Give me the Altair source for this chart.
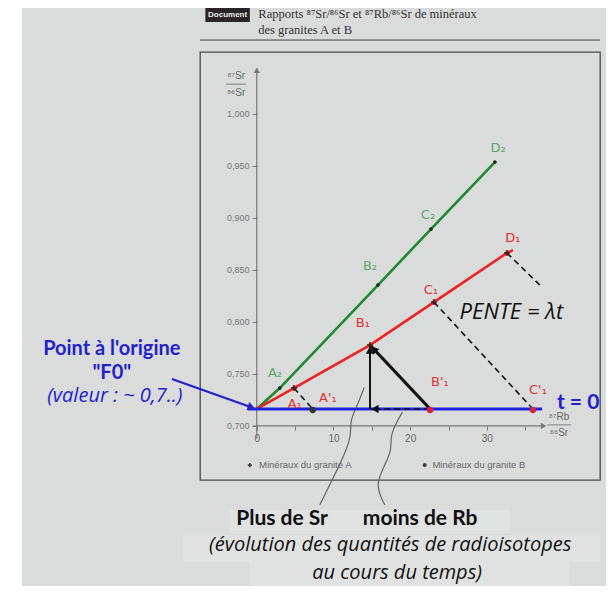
import altair as alt
import pandas as pd

XDOM = [-7.4, 44.75]
YDOM = [0.648, 1.0596]
XS = alt.Scale(domain=XDOM, nice=False, zero=False)
YS = alt.Scale(domain=YDOM, nice=False, zero=False)

# ---- data ----
F0 = 0.7163
red_names = ["A₁", "B₁", "C₁", "D₁"]
red_x = [4.85, 14.76, 23.1, 32.62]
red_y = [0.7364, 0.7778, 0.8191, 0.8663]
red_end = (33.4, 0.869)

green_names = ["A₂", "B₂", "C₂", "D₂"]
green_x = [3.0, 15.8, 22.71, 31.05]
green_y = [0.7364, 0.8355, 0.8893, 0.9537]

t0_names = ["A'₁", "B'₁", "C'₁"]
t0_x = [7.3, 22.6, 36.0]

x_ticks = [0, 5, 10, 15, 20, 25, 30, 35]
y_ticks = [0.70, 0.75, 0.80, 0.85, 0.90, 0.95, 1.00]

AX = alt.Axis(values=x_ticks, offset=-54, domain=False, grid=False, title=None,
              tickColor="#777", tickSize=4, labelColor="#666",
              labelFont="Liberation Sans", labelFontSize=10, labelPadding=3,
              labelExpr="datum.value % 10 == 0 ? datum.label : ''")
AY = alt.Axis(values=y_ticks, offset=-57, domain=False, grid=False, title=None,
              tickColor="#777", tickSize=5, labelColor="#777",
              labelFont="Liberation Sans", labelFontSize=9, labelPadding=3,
              labelExpr="replace(format(datum.value, '.3f'), '.', ',')")


def X(field="x"):
    return alt.X(field, type="quantitative", scale=XS, axis=AX, title=None)


def Y(field="y"):
    return alt.Y(field, type="quantitative", scale=YS, axis=AY, title=None)


# paper decorations: white strip at left edge, lighter boxes behind the bottom notes
strip = alt.Chart(pd.DataFrame({"x": [-33.5], "x2": [-30.6], "y": [0.50], "y2": [1.20], "c": ["#ffffff"]})).mark_rect(
).encode(x=X(), x2="x2:Q", y=Y(), y2="y2:Q", color=alt.Color("c:N", scale=None))
boxes = alt.Chart(pd.DataFrame({"x": [-3.5, -9.6, -0.9], "x2": [33.0, 44.75, 40.8],
                                "y": [0.6191, 0.5951, 0.5691], "y2": [0.5970, 0.5691, 0.5400]})).mark_rect(
    color="#e0e2e2").encode(x=X(), x2="x2:Q", y=Y(), y2="y2:Q")

# axis lines drawn as rules with arrow heads
axis_lines = pd.DataFrame({"x": [-0.5, 0], "y": [0.70, 0.688], "x2": [37.2, 0], "y2": [0.70, 1.042]})
axis_rules = alt.Chart(axis_lines).mark_rule(color="#777", strokeWidth=1.2).encode(
    x=X(), y=Y(), x2="x2:Q", y2="y2:Q")
arrow_heads = alt.Chart(pd.DataFrame({"x": [0, 37.4], "y": [1.042, 0.70], "s": ["triangle-up", "triangle-right"]})).mark_point(
    filled=True, color="#777", size=40, opacity=1).encode(
    x=X(), y=Y(), shape=alt.Shape("s:N", scale=None))

# main lines
green_df = pd.DataFrame({"x": [0] + green_x, "y": [F0] + green_y})
green_line = alt.Chart(green_df).mark_line(color="#1f8a2e", strokeWidth=2.6).encode(x=X(), y=Y())

red_df = pd.DataFrame({"x": [0] + red_x + [red_end[0]], "y": [F0] + red_y + [red_end[1]]})
red_line = alt.Chart(red_df).mark_line(color="#ee2222", strokeWidth=2.6).encode(x=X(), y=Y())

blue_df = pd.DataFrame({"x": [-1.2], "x2": [37.2], "y": [F0]})
blue_line = alt.Chart(blue_df).mark_rule(color="#2222dd", strokeWidth=3).encode(x=X(), x2="x2:Q", y=Y())

# dashed projection lines
dash_df = pd.DataFrame({
    "x": [red_x[0], red_x[2], red_x[3], t0_x[1]],
    "y": [red_y[0], red_y[2], red_y[3], F0],
    "x2": [t0_x[0], t0_x[2], 36.9, red_x[1]],
    "y2": [F0, F0, 0.8355, F0],
})
dashes = alt.Chart(dash_df).mark_rule(color="#111", strokeWidth=1.6, strokeDash=[6, 4]).encode(
    x=X(), y=Y(), x2="x2:Q", y2="y2:Q")

# black arrows (evolution B'1 -> B1)
black_df = pd.DataFrame({"x": [t0_x[1], red_x[1]], "y": [F0, F0], "x2": [red_x[1], red_x[1]],
                         "y2": [red_y[1], red_y[1]], "w": [3.2, 2.0]})
black_arrows = alt.Chart(black_df).mark_rule(color="#111").encode(
    x=X(), y=Y(), x2="x2:Q", y2="y2:Q", strokeWidth=alt.StrokeWidth("w:Q", scale=None))
heads_df = pd.DataFrame({"x": [red_x[1] + 0.5, red_x[1], 15.4], "y": [red_y[1] - 0.004, red_y[1] - 0.005, F0],
                         "a": [317, 0, 270]})
black_heads = alt.Chart(heads_df).mark_point(shape="triangle-up", filled=True, color="#111", size=70, opacity=1).encode(
    x=X(), y=Y(), angle=alt.Angle("a:Q", scale=None))

# markers
red_pts = alt.Chart(pd.DataFrame({"x": red_x, "y": red_y})).mark_point(
    shape="cross", filled=True, color="#5a1c1c", size=30, opacity=1).encode(x=X(), y=Y())
green_pts = alt.Chart(pd.DataFrame({"x": green_x, "y": green_y})).mark_point(
    shape="circle", filled=True, color="#1d2d1d", size=14, opacity=1).encode(x=X(), y=Y())
t0_pts = alt.Chart(pd.DataFrame({"x": t0_x, "y": [F0 - 0.001] * 3, "c": ["#333", "#d8213a", "#d8213a"]})).mark_point(
    shape="circle", filled=True, size=40, opacity=1).encode(x=X(), y=Y(), color=alt.Color("c:N", scale=None))

# point labels
green_lab = alt.Chart(pd.DataFrame({"x": [2.37, 14.76, 22.32, 31.45], "y": [0.7509, 0.8538, 0.9028, 0.9672],
                                    "t": green_names})).mark_text(
    font="DejaVu Sans", fontSize=13, color="#5aa868").encode(x=X(), y=Y(), text="t:N")
red_lab = alt.Chart(pd.DataFrame({
    "x": [4.95, 13.83, 22.71, 33.4, 9.28, 23.88, 36.66],
    "y": [0.7211, 0.7989, 0.8307, 0.8807, 0.7268, 0.7422, 0.7345],
    "t": red_names + t0_names})).mark_text(
    font="DejaVu Sans", fontSize=13, color="#e23030").encode(x=X(), y=Y(), text="t:N")

# blue pointer to F0
ptr_df = pd.DataFrame({"x": [-11.06], "y": [0.7451], "x2": [-0.9], "y2": [0.7185]})
ptr = alt.Chart(ptr_df).mark_rule(color="#2222cc", strokeWidth=2.2).encode(x=X(), y=Y(), x2="x2:Q", y2="y2:Q")
ptr_head = alt.Chart(pd.DataFrame({"x": [-0.7], "y": [0.7181]})).mark_point(
    shape="triangle-right", angle=19, filled=True, color="#2222cc", size=70, opacity=1).encode(x=X(), y=Y())

# grey hand-drawn pointers
curve_df = pd.DataFrame({
    "x": [8.2, 11.0, 12.4, 12.1, 13.2, 14.0,
          16.7, 15.4, 16.7, 17.6, 17.4, 18.4, 19.0],
    "y": [0.6239, 0.665, 0.690, 0.705, 0.721, 0.737,
          0.6239, 0.6431, 0.6624, 0.6768, 0.6912, 0.7057, 0.7134],
    "g": ["a"] * 6 + ["b"] * 7,
    "i": list(range(6)) + list(range(7)),
})
curves = alt.Chart(curve_df).mark_line(color="#666", strokeWidth=1.2, interpolate="basis").encode(
    x=X(), y=Y(), detail="g:N", order="i:Q")

# axis titles (fractions)
frac_txt = alt.Chart(pd.DataFrame({"x": [-2.7, -2.7, 39.4, 39.4], "y": [1.0364, 1.0205, 0.7084, 0.6930],
                                   "t": ["⁸⁷Sr", "⁸⁶Sr", "⁸⁷Rb", "⁸⁶Sr"]})).mark_text(
    font="Liberation Sans", fontSize=10, color="#666").encode(x=X(), y=Y(), text="t:N")
frac_rules = alt.Chart(pd.DataFrame({"x": [-4.0, 37.9], "x2": [-1.4, 41.0], "y": [1.0287, 0.7010]})).mark_rule(
    color="#666", strokeWidth=0.8).encode(x=X(), x2="x2:Q", y=Y())

# legend inside the frame
leg_df = pd.DataFrame({"x": [0.3, 22.9], "y": [0.6624, 0.6624],
                       "t": ["Minéraux du granite A", "Minéraux du granite B"]})
leg_txt = alt.Chart(leg_df).mark_text(align="left", font="Liberation Sans", fontSize=9.5, color="#666").encode(
    x=X(), y=Y(), text="t:N")
leg_sym = alt.Chart(pd.DataFrame({"x": [-0.9, 21.9], "y": [0.6624, 0.6624], "s": ["cross", "circle"]})).mark_point(
    filled=True, color="#444", size=18, opacity=1).encode(x=X(), y=Y(), shape=alt.Shape("s:N", scale=None))

# header
doc_box = alt.Chart(pd.DataFrame({"x": [-6.7], "x2": [-0.9], "y": [1.0884], "y2": [1.1018]})).mark_rect(
    color="#2a2526").encode(x=X(), x2="x2:Q", y=Y(), y2="y2:Q")
doc_txt = alt.Chart(pd.DataFrame({"x": [-3.8], "y": [1.0951], "t": ["Document"]})).mark_text(
    font="Liberation Sans", fontWeight="bold", fontSize=8, color="#eeeeee").encode(x=X(), y=Y(), text="t:N")
head_txt = alt.Chart(pd.DataFrame({"x": [0.2, 0.2], "y": [1.0961, 1.0807],
                                   "t": ["Rapports ⁸⁷Sr/⁸⁶Sr et ⁸⁷Rb/⁸⁶Sr de minéraux", "des granites A et B"]})).mark_text(
    align="left", font="Liberation Serif", fontSize=12.5, color="#333").encode(x=X(), y=Y(), text="t:N")
head_rule = alt.Chart(pd.DataFrame({"x": [-7.4], "x2": [44.75], "y": [1.0711]})).mark_rule(
    color="#444", strokeWidth=1).encode(x=X(), x2="x2:Q", y=Y())

# annotations
ann_bold_blue = alt.Chart(pd.DataFrame({"x": [-18.9, -18.9], "y": [0.7735, 0.7505],
                                        "t": ["Point à l'origine", "\"F0\""]})).mark_text(
    font="Lato", fontWeight="bold", fontSize=20, color="#2222cc").encode(x=X(), y=Y(), text="t:N")
ann_it_blue = alt.Chart(pd.DataFrame({"x": [-18.5], "y": [0.7285], "t": ["(valeur : ~ 0,7..)"]})).mark_text(
    font="Open Sans", fontStyle="italic", fontSize=20, color="#2222cc").encode(x=X(), y=Y(), text="t:N")
ann_t0 = alt.Chart(pd.DataFrame({"x": [41.9], "y": [0.7225], "t": ["t = 0"]})).mark_text(
    font="Lato", fontWeight="bold", fontSize=21, color="#2222cc").encode(x=X(), y=Y(), text="t:N")
ann_pente = alt.Chart(pd.DataFrame({"x": [33.2], "y": [0.8095], "t": ["PENTE = λt"]})).mark_text(
    font="Open Sans", fontStyle="italic", fontSize=22, color="#111").encode(x=X(), y=Y(), text="t:N")
ann_bottom_b = alt.Chart(pd.DataFrame({"x": [3.3, 21.3], "y": [0.6105, 0.6105],
                                       "t": ["Plus de Sr", "moins de Rb"]})).mark_text(
    font="Lato", fontWeight="bold", fontSize=21, color="#111").encode(x=X(), y=Y(), text="t:N")
ann_bottom_i = alt.Chart(pd.DataFrame({"x": [17.4, 18.3], "y": [0.5852, 0.5585],
                                       "t": ["(évolution des quantités de radioisotopes", "au cours du temps)"]})).mark_text(
    font="Open Sans", fontStyle="italic", fontSize=20, color="#111").encode(x=X(), y=Y(), text="t:N")

chart = alt.layer(
    strip, boxes, axis_rules, arrow_heads, curves, green_line, red_line, blue_line, dashes, black_arrows, black_heads,
    red_pts, green_pts, t0_pts, green_lab, red_lab, ptr, ptr_head, frac_txt, frac_rules, leg_txt, leg_sym,
    doc_box, doc_txt, head_txt, head_rule, ann_bold_blue, ann_it_blue, ann_t0, ann_pente, ann_bottom_b, ann_bottom_i,
).properties(
    width=400, height=428,
    autosize=alt.AutoSizeParams(type="none"),
    padding={"left": 192, "top": 44, "right": 6, "bottom": 106},
).configure(background="#d9dcdb").configure_view(stroke="#4a4a4a", strokeWidth=1.3)

chart.save("out.html", embed_options={"renderer": "svg", "actions": False})
